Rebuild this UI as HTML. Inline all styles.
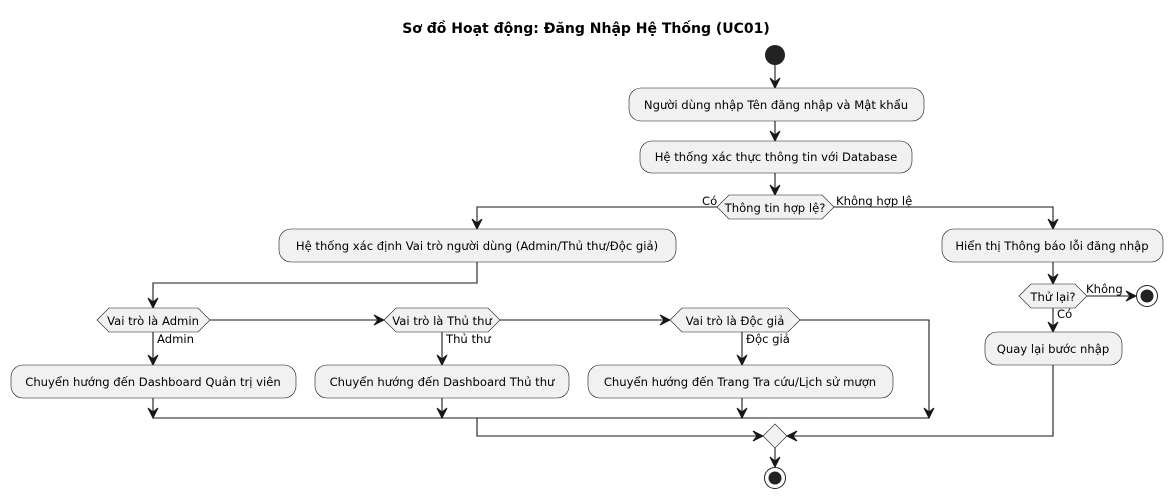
<!DOCTYPE html>
<html><head><meta charset="utf-8"><style>
html,body{margin:0;padding:0;background:#fff;}
svg{display:block;}
text{font-family:"DejaVu Sans","Liberation Sans",sans-serif;font-size:11.6px;fill:#000;}
.box{fill:#f1f1f1;stroke:#181818;stroke-width:0.6;}
.ln{stroke:#181818;stroke-width:1.1;fill:none;}
.ar{fill:#181818;stroke:#181818;stroke-width:1;}
</style></head><body>
<svg width="1173" height="500" viewBox="0 0 1173 500" xmlns="http://www.w3.org/2000/svg">
<text x="586" y="33" text-anchor="middle" style="font-size:14px;font-weight:bold">Sơ đồ Hoạt động: Đăng Nhập Hệ Thống (UC01)</text>
<circle cx="775" cy="55" r="10" fill="#222"/>
<line class="ln" x1="775" y1="65" x2="775" y2="88"/>
<polygon class="ar" points="770,78 775,88 780,78 775,82"/>
<rect class="box" x="629" y="88" width="295" height="33" rx="12"/>
<text x="776" y="109" text-anchor="middle">Người dùng nhập Tên đăng nhập và Mật khẩu</text>
<line class="ln" x1="775" y1="121" x2="775" y2="141"/>
<polygon class="ar" points="770,131 775,141 780,131 775,135"/>
<rect class="box" x="640" y="141" width="272" height="32" rx="12"/>
<text x="776" y="161" text-anchor="middle">Hệ thống xác thực thông tin với Database</text>
<line class="ln" x1="775" y1="173" x2="775" y2="195"/>
<polygon class="ar" points="770,185 775,195 780,185 775,189"/>
<polygon class="box" points="717,207 729,195 822,195 834,207 822,219 729,219"/>
<text x="775" y="212" text-anchor="middle">Thông tin hợp lệ?</text>
<text x="702" y="205">Có</text>
<text x="836" y="205">Không hợp lệ</text>
<polyline class="ln" points="717,207 477,207 477,229"/>
<polygon class="ar" points="472,219 477,229 482,219 477,223"/>
<polyline class="ln" points="834,207 1053,207 1053,229"/>
<polygon class="ar" points="1048,219 1053,229 1058,219 1053,223"/>
<rect class="box" x="279" y="229" width="397" height="33" rx="12"/>
<text x="477" y="250" text-anchor="middle">Hệ thống xác định Vai trò người dùng (Admin/Thủ thư/Độc giả)</text>
<polyline class="ln" points="477,262 477,283 153,283 153,308"/>
<polygon class="ar" points="148,298 153,308 158,298 153,302"/>
<polygon class="box" points="97,320 109,308 198,308 210,320 198,332 109,332"/>
<text x="153" y="325" text-anchor="middle">Vai trò là Admin</text>
<line class="ln" x1="210" y1="320" x2="384" y2="320"/>
<polygon class="ar" points="374,315 384,320 374,325 378,320"/>
<polygon class="box" points="384,320 396,308 488,308 500,320 488,332 396,332"/>
<text x="442" y="325" text-anchor="middle">Vai trò là Thủ thư</text>
<line class="ln" x1="500" y1="320" x2="670" y2="320"/>
<polygon class="ar" points="660,315 670,320 660,325 664,320"/>
<polygon class="box" points="670,320 682,308 788,308 800,320 788,332 682,332"/>
<text x="735" y="325" text-anchor="middle">Vai trò là Độc giả</text>
<polyline class="ln" points="800,320 929,320 929,418"/>
<polygon class="ar" points="924,408 929,418 934,408 929,412"/>
<line class="ln" x1="153" y1="332" x2="153" y2="365"/>
<polygon class="ar" points="148,355 153,365 158,355 153,359"/>
<text x="157" y="343">Admin</text>
<line class="ln" x1="442" y1="332" x2="442" y2="365"/>
<polygon class="ar" points="437,355 442,365 447,355 442,359"/>
<text x="446" y="343">Thủ thư</text>
<line class="ln" x1="742" y1="332" x2="742" y2="365"/>
<polygon class="ar" points="737,355 742,365 747,355 742,359"/>
<text x="746" y="343">Độc giả</text>
<rect class="box" x="11" y="365" width="285" height="33" rx="12"/>
<text x="153" y="386" text-anchor="middle">Chuyển hướng đến Dashboard Quản trị viên</text>
<rect class="box" x="315" y="365" width="254" height="33" rx="12"/>
<text x="442" y="386" text-anchor="middle">Chuyển hướng đến Dashboard Thủ thư</text>
<rect class="box" x="588" y="365" width="305" height="33" rx="12"/>
<text x="740" y="386" text-anchor="middle">Chuyển hướng đến Trang Tra cứu/Lịch sử mượn</text>
<line class="ln" x1="153" y1="398" x2="153" y2="418"/>
<polygon class="ar" points="148,408 153,418 158,408 153,412"/>
<line class="ln" x1="442" y1="398" x2="442" y2="418"/>
<polygon class="ar" points="437,408 442,418 447,408 442,412"/>
<line class="ln" x1="742" y1="398" x2="742" y2="418"/>
<polygon class="ar" points="737,408 742,418 747,408 742,412"/>
<line class="ln" x1="153" y1="418" x2="929" y2="418"/>
<polyline class="ln" points="477,418 477,436 763,436"/>
<polygon class="ar" points="753,431 763,436 753,441 757,436"/>
<rect class="box" x="942" y="229" width="221" height="33" rx="12"/>
<text x="1052" y="250" text-anchor="middle">Hiển thị Thông báo lỗi đăng nhập</text>
<line class="ln" x1="1053" y1="262" x2="1053" y2="284"/>
<polygon class="ar" points="1048,274 1053,284 1058,274 1053,278"/>
<polygon class="box" points="1019,296 1031,284 1075,284 1087,296 1075,308 1031,308"/>
<text x="1053" y="301" text-anchor="middle">Thử lại?</text>
<line class="ln" x1="1087" y1="296" x2="1136" y2="296"/>
<polygon class="ar" points="1126,291 1136,296 1126,301 1130,296"/>
<text x="1086" y="293">Không</text>
<circle cx="1147" cy="296" r="10.5" fill="#fff" stroke="#222" stroke-width="1"/>
<circle cx="1147" cy="296" r="6.5" fill="#222"/>
<line class="ln" x1="1053" y1="308" x2="1053" y2="332"/>
<polygon class="ar" points="1048,322 1053,332 1058,322 1053,326"/>
<text x="1057" y="318">Có</text>
<rect class="box" x="985" y="332" width="137" height="33" rx="12"/>
<text x="1053" y="353" text-anchor="middle">Quay lại bước nhập</text>
<polyline class="ln" points="1053,365 1053,436 787,436"/>
<polygon class="ar" points="797,431 787,436 797,441 793,436"/>
<polygon class="box" points="775,424 787,436 775,448 763,436"/>
<line class="ln" x1="775" y1="448" x2="775" y2="467"/>
<polygon class="ar" points="770,457 775,467 780,457 775,461"/>
<circle cx="775" cy="478" r="10.5" fill="#fff" stroke="#222" stroke-width="1"/>
<circle cx="775" cy="478" r="6.5" fill="#222"/>
</svg>
</body></html>
